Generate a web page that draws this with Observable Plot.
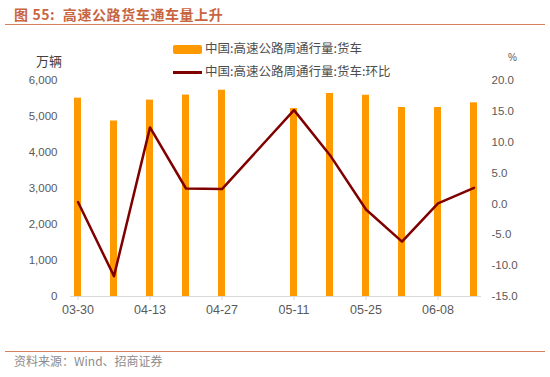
<!DOCTYPE html>
<html>
<head>
<meta charset="utf-8">
<script src="https://cdn.jsdelivr.net/npm/d3@7"></script>
<script src="https://cdn.jsdelivr.net/npm/@observablehq/plot@0.6"></script>
<style>
  body { margin: 0; background: #fff; }
  #wrap { position: relative; width: 550px; height: 377px; overflow: hidden; font-family: "Liberation Sans", "Noto Sans CJK SC", sans-serif; }
  .abs { position: absolute; white-space: pre; line-height: 1; }
  #chart1, #chart2 { position: absolute; left: 0; top: 30px; }
</style>
</head>
<body>
<div id="wrap">
  <div class="abs" id="title" style="left:14px; top:7px; font-size:14px; font-weight:bold; letter-spacing:0.6px; color:#C8653F; font-family:'Noto Sans CJK SC','Liberation Sans',sans-serif;"></div>
  <div class="abs" style="left:5px; top:24px; width:540px; height:0; border-top:1.5px solid #D4805C;"></div>
  <div class="abs" id="unitL" style="left:36px; top:54px; font-size:13px; color:#404040; font-family:'Noto Sans CJK SC',sans-serif;"></div>
  <div class="abs" id="unitR" style="left:508px; top:53px; font-size:10px; color:#595959;"></div>
  <div class="abs" style="left:173px; top:45px; width:29px; height:9px; background:#FF9900; border-radius:2px;"></div>
  <div class="abs" id="leg1" style="left:205px; top:42px; font-size:12.5px; color:#4d4d4d; font-family:'Noto Sans CJK SC',sans-serif;"></div>
  <div class="abs" style="left:173px; top:71px; width:29px; height:2.5px; background:#800000;"></div>
  <div class="abs" id="leg2" style="left:205px; top:65px; font-size:12.5px; color:#4d4d4d; font-family:'Noto Sans CJK SC',sans-serif;"></div>
  <div id="chart1"></div>
  <div id="chart2"></div>
  <div class="abs" style="left:5px; top:351px; width:540px; height:0; border-top:1.5px solid #D4805C;"></div>
  <div class="abs" id="source" style="left:14px; top:355px; font-size:12px; color:#8c8c8c; font-family:'Noto Sans CJK SC',sans-serif;"></div>
</div>
<script>
const titleText = "图 55:  高速公路货车通车量上升";
const sourceText = "资料来源：Wind、招商证券";
const unitLeft = "万辆";
const unitRight = "%";
const seriesNames = ["中国:高速公路周通行量:货车", "中国:高速公路周通行量:货车:环比"];
const dates = ["03-30","04-06","04-13","04-20","04-27","05-04","05-11","05-18","05-25","06-01","06-08","06-15"];
const trucks = [5510, 4875, 5455, 5595, 5730, null, 5220, 5640, 5590, 5250, 5250, 5380];
const mom = [0.3, -11.7, 12.4, 2.5, 2.4, null, 15.2, 7.9, -0.9, -6.1, 0.1, 2.6];
const leftTicks = [0, 1000, 2000, 3000, 4000, 5000, 6000];
const rightTicks = [-15, -10, -5, 0, 5, 10, 15, 20];
const xTickLabels = ["03-30","04-13","04-27","05-11","05-25","06-08"];

document.getElementById("title").textContent = titleText;
document.getElementById("source").textContent = sourceText;
document.getElementById("unitL").textContent = unitLeft;
document.getElementById("unitR").textContent = unitRight;
document.getElementById("leg1").textContent = seriesNames[0];
document.getElementById("leg2").textContent = seriesNames[1];

const data = dates.map((d, i) => ({date: d, trucks: trucks[i], mom: mom[i]}));

const common = {
  width: 550,
  height: 306,
  marginTop: 50,
  marginBottom: 40,
  marginLeft: 70,
  marginRight: 69,
  style: {fontFamily: "'Liberation Sans', 'Noto Sans CJK SC', sans-serif", fontSize: "11.5px", background: "transparent", overflow: "visible"},
  x: {type: "band", domain: dates, paddingInner: 0.8, paddingOuter: 0, axis: null}
};

const p1 = Plot.plot({
  ...common,
  y: {domain: [0, 6000], axis: null},
  marks: [
    Plot.barY(data.filter(d => d.trucks != null), {x: "date", y: "trucks", fill: "#FF9900"}),
    Plot.ruleY([0], {stroke: "#d9d9d9", strokeWidth: 1.2}),
    Plot.axisX({ticks: xTickLabels, tickSize: 4, tickPadding: 5, stroke: "#d9d9d9", fill: "#595959", fontSize: 12.5, label: null}),
    Plot.axisY({ticks: leftTicks, tickSize: 0, tickPadding: 13, tickFormat: d3.format(","), fill: "#595959", label: null})
  ]
});
document.getElementById("chart1").appendChild(p1);

const p2 = Plot.plot({
  ...common,
  y: {domain: [-15, 20], axis: null},
  marks: [
    Plot.line(data.filter(d => d.mom != null), {x: "date", y: "mom", stroke: "#800000", strokeWidth: 2.5}),
    Plot.axisY({anchor: "right", ticks: rightTicks, tickSize: 0, tickPadding: 10, tickFormat: d => d.toFixed(1), fill: "#595959", label: null})
  ]
});
document.getElementById("chart2").appendChild(p2);
</script>
</body>
</html>
